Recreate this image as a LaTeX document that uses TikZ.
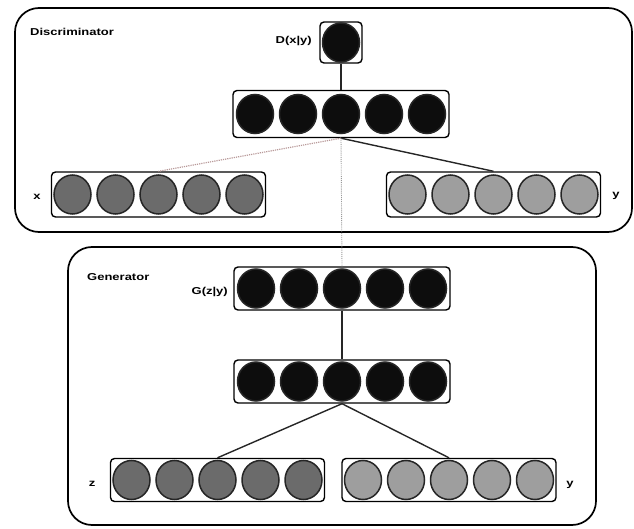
\documentclass[tikz,border=0pt]{standalone}
\usepackage{fontspec}
\setmainfont{Liberation Sans}
\newfontfamily\lblfont[FakeStretch=1.3]{Liberation Sans}
\usetikzlibrary{shapes.geometric,calc}
\begin{document}
\begin{tikzpicture}[x=1pt,y=-1pt,
  outerbox/.style={draw, line width=1.7pt, rounded corners=24pt, inner sep=0pt},
  layerbox/.style={draw, line width=1.4pt, rounded corners=4pt, inner sep=0pt, minimum width=214pt, minimum height=45pt},
  neuron/.style={ellipse, draw=black!85, line width=1.5pt, minimum width=37pt, minimum height=39pt, inner sep=0pt},
  hid/.style={neuron, fill=black!95},
  inx/.style={neuron, fill=black!58},
  iny/.style={neuron, fill=black!38},
  lbl/.style={font=\lblfont\bfseries\fontsize{10}{11}\selectfont, inner sep=1pt},
  conn/.style={line width=1.4pt, black!85},
  faint/.style={line width=0.9pt, densely dotted, black!40},
  faintred/.style={line width=1.2pt, densely dotted, red!30!black!40}
]
\useasboundingbox (0,0) rectangle (634,529);
% outer frames
\node[outerbox, minimum width=617pt, minimum height=224pt] (disc) at (323.5,120) {};
\node[outerbox, minimum width=528pt, minimum height=278pt] (gen) at (332,386) {};
\node[lbl, anchor=west] (dlab) at (29,32) {Discriminator};
\node[lbl, anchor=west] (glab) at (86,277) {Generator};

% discriminator output
\node[draw, line width=1.4pt, rounded corners=4pt, minimum width=42pt, minimum height=41pt, inner sep=0pt] (dob) at (341,42.5) {};
\node[hid] (do) at (341,42.5) {};
\node[lbl, anchor=east] (dolab) at (313,41) {D(x|y)};

% layers
\node[layerbox, minimum width=216pt, minimum height=47pt] (dh) at (341,114) {};
\node[layerbox] (xb) at (158.5,194.5) {};
\node[layerbox] (yb) at (493.5,194.5) {};
\node[layerbox, minimum width=216pt, minimum height=43pt] (go) at (342,288.5) {};
\node[layerbox, minimum width=216pt, minimum height=43pt] (gh) at (342,381.5) {};
\node[layerbox, minimum height=43pt] (zb) at (217.5,480) {};
\node[layerbox, minimum height=43pt] (gyb) at (449,480) {};

\foreach \i in {1,...,5} {
  \node[hid] (dh\i) at ($(dh.center)+({(\i-3)*43},0)$) {};
  \node[inx] (x\i) at ($(xb.center)+({(\i-3)*43},0)$) {};
  \node[iny] (y\i) at ($(yb.center)+({(\i-3)*43},0)$) {};
  \node[hid] (go\i) at ($(go.center)+({(\i-3)*43},0)$) {};
  \node[hid] (gh\i) at ($(gh.center)+({(\i-3)*43},0)$) {};
  \node[inx] (z\i) at ($(zb.center)+({(\i-3)*43},0)$) {};
  \node[iny] (gy\i) at ($(gyb.center)+({(\i-3)*43},0)$) {};
}

\node[lbl, anchor=center] (xlab) at (37,197) {x};
\node[lbl, anchor=center] (ylab) at (616,196) {y};
\node[lbl, anchor=east] (golab) at (229,292) {G(z|y)};
\node[lbl, anchor=center] (zlab) at (92,484) {z};
\node[lbl, anchor=center] (gylab) at (570,485) {y};

% connectors
\draw[conn] (dob.south) -- (dh.north);
\draw[faintred] (dh.south) -- (x3 |- xb.north);
\draw[conn] (dh.south) -- (y3 |- yb.north);
\draw[faint] (dh.south) -- (go.north);
\draw[conn] (go.south) -- (gh.north);
\draw[conn] (gh.south) -- (z3 |- zb.north);
\draw[conn] (gh.south) -- (gy3 |- gyb.north);
\end{tikzpicture}
\end{document}
